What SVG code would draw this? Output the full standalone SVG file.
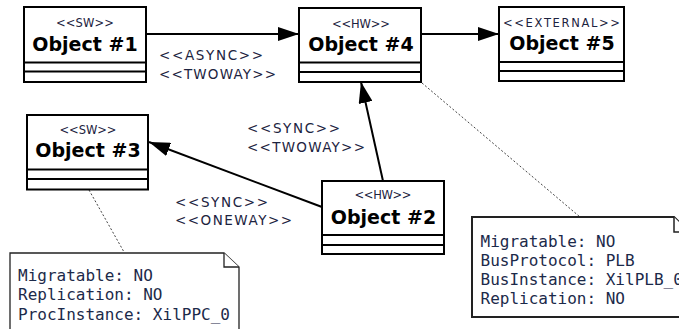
<svg xmlns="http://www.w3.org/2000/svg" width="679" height="329" viewBox="0 0 679 329">
  <style>
    .box { fill: #ffffff; stroke: #000000; stroke-width: 2; }
    .div { stroke: #000000; stroke-width: 2; }
    .stereo { font-family: "DejaVu Sans", sans-serif; font-size: 11.5px; fill: #1c2340; text-anchor: middle; }
    .name { font-family: "DejaVu Sans", sans-serif; font-weight: bold; font-size: 19px; fill: #000000; text-anchor: middle; }
    .label { font-family: "DejaVu Sans", sans-serif; font-size: 13.5px; fill: #1c2340; }
    .edge { stroke: #000000; stroke-width: 2; fill: none; marker-end: url(#head); }
    .anchor { stroke: #444444; stroke-width: 1; stroke-dasharray: 2 2; fill: none; }
    .note { fill: #ffffff; stroke: #222222; }
    .notetext { font-family: "DejaVu Sans Mono", monospace; font-size: 16px; fill: #1c2a4a; }
  </style>
  <defs>
    <marker id="head" viewBox="0 0 21 14" markerWidth="21" markerHeight="14" refX="21" refY="7" orient="auto" markerUnits="userSpaceOnUse">
      <path d="M0,0 L21,7 L0,14 z" fill="#000000"/>
    </marker>
  </defs>

  <!-- connectors -->
  <g id="connectors">
    <path class="edge" d="M146,34 L299,34"/>
    <path class="edge" d="M421,34 L499,34"/>
    <path class="edge" d="M383,181 L361,82"/>
    <path class="edge" d="M322,207 L149,142"/>
    <path class="anchor" d="M89,190 L124,252"/>
    <path class="anchor" d="M422,83 L580,217"/>
    <text class="label" x="159" y="60" textLength="104">&lt;&lt;ASYNC&gt;&gt;</text>
    <text class="label" x="159" y="79" textLength="117">&lt;&lt;TWOWAY&gt;&gt;</text>
    <text class="label" x="247" y="133" textLength="93">&lt;&lt;SYNC&gt;&gt;</text>
    <text class="label" x="247" y="152" textLength="118">&lt;&lt;TWOWAY&gt;&gt;</text>
    <text class="label" x="175" y="207" textLength="93">&lt;&lt;SYNC&gt;&gt;</text>
    <text class="label" x="175" y="225" textLength="117">&lt;&lt;ONEWAY&gt;&gt;</text>
  </g>

  <!-- Object #1 -->
  <g id="object1">
    <rect class="box" x="24" y="7" width="122" height="75"/>
    <line class="div" x1="24" y1="62.5" x2="146" y2="62.5"/>
    <line class="div" x1="24" y1="71.5" x2="146" y2="71.5"/>
    <text class="stereo" x="85" y="27" textLength="58">&lt;&lt;SW&gt;&gt;</text>
    <text class="name" x="85" y="51">Object #1</text>
  </g>

  <!-- Object #4 -->
  <g id="object4">
    <rect class="box" x="299" y="8" width="122" height="74"/>
    <line class="div" x1="299" y1="62.5" x2="421" y2="62.5"/>
    <line class="div" x1="299" y1="72" x2="421" y2="72"/>
    <text class="stereo" x="361" y="27.5" textLength="58">&lt;&lt;HW&gt;&gt;</text>
    <text class="name" x="361" y="51">Object #4</text>
  </g>

  <!-- Object #5 -->
  <g id="object5">
    <rect class="box" x="499" y="7" width="125" height="74"/>
    <line class="div" x1="499" y1="62" x2="624" y2="62"/>
    <line class="div" x1="499" y1="71" x2="624" y2="71"/>
    <text class="stereo" x="561.5" y="27" font-size="13" textLength="117">&lt;&lt;EXTERNAL&gt;&gt;</text>
    <text class="name" x="562" y="50">Object #5</text>
  </g>

  <!-- Object #3 -->
  <g id="object3">
    <rect class="box" x="27" y="115" width="121" height="74.5"/>
    <line class="div" x1="27" y1="169.5" x2="148" y2="169.5"/>
    <line class="div" x1="27" y1="179" x2="148" y2="179"/>
    <text class="stereo" x="88" y="133.5" textLength="57">&lt;&lt;SW&gt;&gt;</text>
    <text class="name" x="88" y="157">Object #3</text>
  </g>

  <!-- Object #2 -->
  <g id="object2">
    <rect class="box" x="322" y="181" width="122" height="73"/>
    <line class="div" x1="322" y1="235" x2="444" y2="235"/>
    <line class="div" x1="322" y1="245" x2="444" y2="245"/>
    <text class="stereo" x="383" y="198.5" textLength="57">&lt;&lt;HW&gt;&gt;</text>
    <text class="name" x="383.5" y="223.5">Object #2</text>
  </g>

  <!-- note attached to Object #3 -->
  <g id="note3">
    <path class="note" stroke-width="1.3" d="M10,253 L224,253 L239,267 L239,335 L10,335 Z"/>
    <path class="note" stroke-width="1.3" d="M224,253 L224,267 L239,267"/>
    <text class="notetext" x="18" y="281">Migratable: NO</text>
    <text class="notetext" x="18" y="300">Replication: NO</text>
    <text class="notetext" x="18" y="319.5">ProcInstance: XilPPC_0</text>
  </g>

  <!-- note attached to Object #4; its right side runs past the canvas edge -->
  <g id="note4">
    <path class="note" stroke-width="2" d="M472,217 L674,217 L689,232 L689,317 L472,317 Z"/>
    <path class="note" stroke-width="1.5" d="M674,217 L674,232 L689,232"/>
    <text class="notetext" x="480.5" y="247">Migratable: NO</text>
    <text class="notetext" x="480.5" y="266">BusProtocol: PLB</text>
    <text class="notetext" x="480.5" y="285">BusInstance: XilPLB_0</text>
    <text class="notetext" x="480.5" y="304">Replication: NO</text>
  </g>
</svg>
